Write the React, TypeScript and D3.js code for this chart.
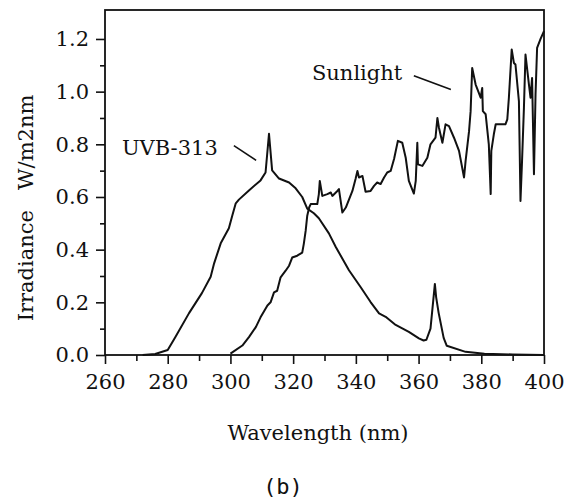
import { useRef, useEffect } from "react";
import * as d3 from "d3";

// UVB-313 lamp spectrum (nm, W/m2nm)
const uvbWavelength = [
  272, 276, 280, 282.5, 286.8, 290.9, 293.7, 294.8, 296.9, 299.5,
  300.6, 301.7, 302.7, 305.9, 309.6, 311.2, 312.3, 313.3, 315.5, 318.7,
  320.8, 322.9, 324.5, 326.6, 328.2, 331.4, 333.6, 337.8, 341.5, 344.7,
  347.4, 349.5, 352.7, 356.9, 360.1, 361.6, 362.5, 363.8, 365.2, 365.6,
  366.4, 368, 369, 375, 381, 390, 400,
];
const uvbIrradiance = [
  0, 0.004, 0.019, 0.069, 0.159, 0.235, 0.297, 0.348, 0.424, 0.481,
  0.53, 0.576, 0.59, 0.625, 0.663, 0.693, 0.84, 0.701, 0.67, 0.655,
  0.633, 0.6, 0.556, 0.538, 0.519, 0.462, 0.41, 0.322, 0.258, 0.201,
  0.158, 0.145, 0.114, 0.088, 0.063, 0.055, 0.058, 0.1, 0.27, 0.22,
  0.16, 0.065, 0.035, 0.012, 0.005, 0.002, 0,
];

// Sunlight spectrum
const sunWavelength = [
  300, 303.8, 305.9, 308.1, 309.6, 311.8, 312.8, 313.9, 314.9, 316.0,
  317.6, 318.7, 319.7, 321.3, 322.9, 323.4, 324.0, 324.5, 325.1, 325.6,
  327.7, 328.2, 328.5, 329.3, 330.9, 332.0, 332.5, 334.1, 334.6, 335.7,
  336.8, 338.9, 339.9, 340.5, 341.0, 342.1, 343.1, 344.7, 345.8, 346.8,
  347.9, 349.0, 350.0, 351.1, 352.2, 353.4, 354.8, 355.9, 356.9, 358.5,
  359.1, 359.6, 359.8, 361.2, 362.8, 363.8, 365.4, 366.0, 366.5, 367.6,
  368.6, 369.7, 371.3, 372.9, 374.5, 375.0, 376.1, 376.6, 377.1, 378.2,
  379.8, 380.3, 380.5, 381.4, 382.4, 383.0, 383.2, 384.0, 384.6, 387.7,
  388.3, 388.8, 389.7, 390.4, 390.9, 392.0, 392.5, 393.0, 393.6, 394.1,
  395.2, 395.7, 396.2, 396.8, 397.3, 397.8, 398.9, 400,
];
const sunIrradiance = [
  0.005, 0.036, 0.068, 0.106, 0.143, 0.188, 0.2, 0.238, 0.244, 0.295,
  0.32, 0.339, 0.37, 0.377, 0.389, 0.422, 0.472, 0.529, 0.56, 0.573,
  0.573, 0.611, 0.661, 0.604, 0.611, 0.617, 0.604, 0.623, 0.63, 0.541,
  0.56, 0.623, 0.668, 0.699, 0.674, 0.68, 0.62, 0.623, 0.642, 0.655,
  0.649, 0.674, 0.693, 0.699, 0.745, 0.813, 0.806, 0.749, 0.661, 0.613,
  0.661, 0.806, 0.724, 0.718, 0.749, 0.8, 0.825, 0.9, 0.863, 0.806,
  0.876, 0.869, 0.825, 0.775, 0.674, 0.737, 0.85, 0.926, 1.09, 1.027,
  0.977, 1.014, 0.926, 0.914, 0.8, 0.611, 0.775, 0.838, 0.876, 0.876,
  0.895, 0.977, 1.16, 1.109, 1.103, 0.964, 0.585, 0.737, 0.939, 1.141,
  1.027, 0.977, 1.052, 0.686, 0.989, 1.166, 1.2, 1.23,
];

const xMajorTicks = [260, 280, 300, 320, 340, 360, 380, 400];
const xMinorTicks = [270, 290, 310, 330, 350, 370, 390];
const yMajorTicks = [0, 0.2, 0.4, 0.6, 0.8, 1.0, 1.2];
const yMinorTicks = [0.1, 0.3, 0.5, 0.7, 0.9, 1.1];

const FONT = "'DejaVu Serif', serif";

const App = () => {
  const svgRef = useRef<SVGSVGElement>(null);

  useEffect(() => {
    const svg = d3.select(svgRef.current);
    svg.selectAll("*").remove();

    const x = d3.scaleLinear().domain([260, 400]).range([105, 544]);
    const y = d3.scaleLinear().domain([0, 1.31]).range([355, 10]);

    const line = d3
      .line<[number, number]>()
      .x((d) => x(d[0]))
      .y((d) => y(d[1]));

    // frame
    svg
      .append("rect")
      .attr("x", x(260))
      .attr("y", y(1.31))
      .attr("width", x(400) - x(260))
      .attr("height", y(0) - y(1.31))
      .attr("fill", "none")
      .attr("stroke", "#111")
      .attr("stroke-width", 1.8);

    // x axis
    const xMajor = svg
      .append("g")
      .attr("transform", `translate(0,${y(0)})`)
      .call(d3.axisBottom(x).tickValues(xMajorTicks).tickSize(9).tickPadding(10).tickFormat(d3.format("d")));
    const xMinor = svg
      .append("g")
      .attr("transform", `translate(0,${y(0)})`)
      .call(d3.axisBottom(x).tickValues(xMinorTicks).tickSize(6).tickFormat(() => ""));

    // y axis
    const yMajor = svg
      .append("g")
      .attr("transform", `translate(${x(260)},0)`)
      .call(d3.axisLeft(y).tickValues(yMajorTicks).tickSize(9).tickPadding(7).tickFormat(d3.format(".1f")));
    const yMinor = svg
      .append("g")
      .attr("transform", `translate(${x(260)},0)`)
      .call(d3.axisLeft(y).tickValues(yMinorTicks).tickSize(5).tickFormat(() => ""));

    [xMajor, xMinor, yMajor, yMinor].forEach((g) => {
      g.select(".domain").remove();
      g.selectAll("line").attr("stroke", "#111").attr("stroke-width", 1.6);
      g.selectAll("text")
        .attr("fill", "#111")
        .style("font-family", FONT)
        .style("font-size", "21px");
    });

    // spectra
    svg
      .append("path")
      .datum(uvbWavelength.map((w, i) => [w, uvbIrradiance[i]] as [number, number]))
      .attr("d", line)
      .attr("fill", "none")
      .attr("stroke", "#111")
      .attr("stroke-width", 2)
      .attr("stroke-linejoin", "round");

    svg
      .append("path")
      .datum(sunWavelength.map((w, i) => [w, sunIrradiance[i]] as [number, number]))
      .attr("d", line)
      .attr("fill", "none")
      .attr("stroke", "#111")
      .attr("stroke-width", 2)
      .attr("stroke-linejoin", "round");

    // annotations
    const label = (text: string, wx: number, vy: number) =>
      svg
        .append("text")
        .attr("x", x(wx))
        .attr("y", y(vy))
        .attr("fill", "#111")
        .style("font-family", FONT)
        .style("font-size", "21px")
        .text(text);

    const leader = (w1: number, v1: number, w2: number, v2: number) =>
      svg
        .append("line")
        .attr("x1", x(w1))
        .attr("y1", y(v1))
        .attr("x2", x(w2))
        .attr("y2", y(v2))
        .attr("stroke", "#111")
        .attr("stroke-width", 1.6);

    label("UVB-313", 265.4, 0.761);
    leader(301.1, 0.795, 308.2, 0.739);
    label("Sunlight", 326, 1.045);
    leader(358.5, 1.06, 370.3, 1.008);

    // axis titles
    svg
      .append("text")
      .attr("transform", "translate(33,208) rotate(-90)")
      .attr("text-anchor", "middle")
      .attr("fill", "#111")
      .style("font-family", FONT)
      .style("font-size", "21px")
      .text("Irradiance\u00A0\u00A0\u00A0W/m2nm");

    svg
      .append("text")
      .attr("x", 318)
      .attr("y", 440)
      .attr("text-anchor", "middle")
      .attr("fill", "#111")
      .style("font-family", FONT)
      .style("font-size", "21px")
      .text("Wavelength (nm)");

    svg
      .append("text")
      .attr("x", 283)
      .attr("y", 494)
      .attr("text-anchor", "middle")
      .attr("fill", "#111")
      .style("font-family", "'DejaVu Sans Mono', monospace")
      .style("font-size", "22px")
      .text("(b)");
  }, []);

  return (
    <svg
      ref={svgRef}
      width={567}
      height={501}
      style={{ position: "absolute", left: 0, top: 0, background: "#fff" }}
    ></svg>
  );
};

export default App;
